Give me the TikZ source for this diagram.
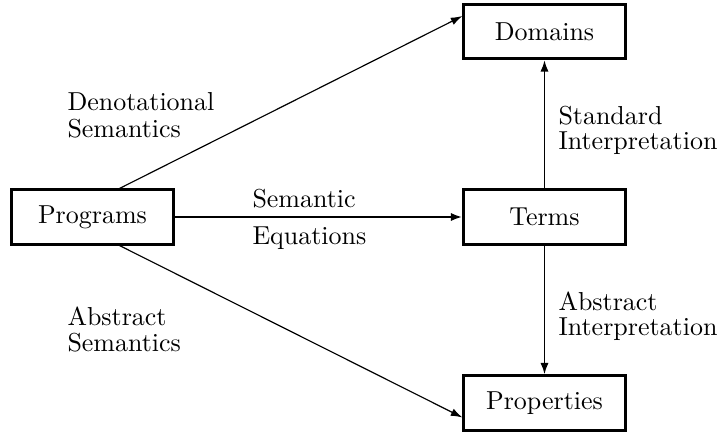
\documentclass[tikz,border=0pt]{standalone}
\usetikzlibrary{arrows.meta,calc}
\begin{document}
\begin{tikzpicture}[x=0.385pt,y=-0.385pt,
  box/.style={draw,line width=1.15pt,minimum width=62pt,minimum height=20.8pt,inner sep=0pt},
  lbl/.style={anchor=base west,inner sep=0pt},
  thinarrow/.style={line width=0.45pt,-{Latex[length=4.5pt,width=3pt]}},
  vertarrow/.style={line width=0.75pt,-{Latex[length=4.5pt,width=3.2pt]}},
  thickarrow/.style={line width=1.15pt,-{Latex[length=4.5pt,width=3.2pt]}}]
\useasboundingbox (0,0) rectangle (722,433);
\node[box] (prog) at (92.5,217) {Programs};
\node[box] (terms) at (544.5,217) {Terms};
\node[box] (dom) at (544.5,31.5) {Domains};
\node[box] (props) at (544.5,403) {Properties};
\coordinate (pdtop) at ($(prog.north west)+(109,0)$);
\coordinate (pdbot) at ($(prog.south west)+(109,0)$);
\coordinate (domin) at ($(dom.north west)+(0,13)$);
\coordinate (propin) at ($(props.south west)+(0,-14)$);
\draw[thinarrow] (pdtop) -- (domin);
\draw[thinarrow] (pdbot) -- (propin);
\draw[thickarrow] (prog.east) -- (terms.west);
\draw[vertarrow] (terms.north) -- (dom.south);
\draw[vertarrow] (terms.south) -- (props.north);
\node[lbl] (den1) at (67,111) {Denotational};
\node[lbl] (den2) at (67,137) {Semantics};
\node[lbl] (abs1) at (67,325) {Abstract};
\node[lbl] (abs2) at (67,351) {Semantics};
\node[lbl] (sem1) at (252,207) {Semantic};
\node[lbl] (sem2) at (252,244) {Equations};
\node[lbl] (std1) at (558,124) {Standard};
\node[lbl] (std2) at (558,149) {Interpretation};
\node[lbl] (ai1) at (558,310) {Abstract};
\node[lbl] (ai2) at (558,335) {Interpretation};
\end{tikzpicture}
\end{document}
